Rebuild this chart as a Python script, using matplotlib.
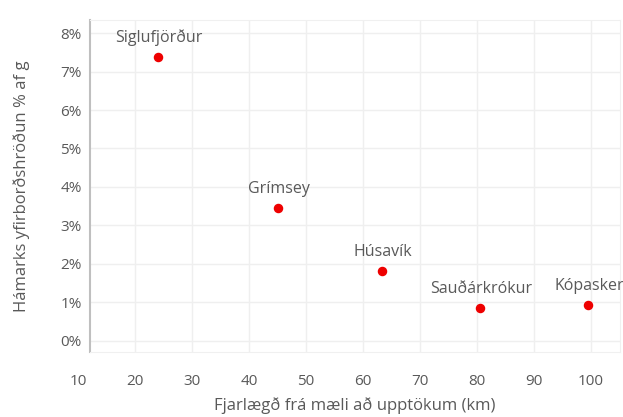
import matplotlib.pyplot as plt
from matplotlib.ticker import PercentFormatter

plt.rcParams['font.family'] = ['Open Sans', 'DejaVu Sans']

stadir = ["Siglufjörður", "Grímsey", "Húsavík", "Sauðárkrókur", "Kópasker"]
fjarlaegd = [24, 45, 63.3, 80.5, 99.5]
hroedun = [7.38, 3.45, 1.82, 0.86, 0.94]

x_ticks = [10, 20, 30, 40, 50, 60, 70, 80, 90, 100]
y_ticks = [0, 1, 2, 3, 4, 5, 6, 7, 8]

txt = "#595959"

fig = plt.figure(figsize=(6.23, 4.17), dpi=100)
ax = fig.add_axes([0.1445, 0.156, 0.85, 0.796])

ax.scatter(fjarlaegd, hroedun, s=34, color="#ee0000", zorder=3)
for n, x, y in zip(stadir, fjarlaegd, hroedun):
    ax.annotate(n, (x, y), xytext=(1, 8), textcoords="offset points",
                ha="center", va="bottom", fontsize=11.5, color=txt)

ax.set_xticks(x_ticks, labels=[])
ax.set_yticks(y_ticks)
ax.set_xlim(12.1, 105)
ax.set_ylim(-0.29, 8.34)

# x-merkingar standa aðeins vinstra megin við ásinn, eins og á fyrirmyndinni
for v in x_ticks:
    ax.text(v, -0.09, str(v), transform=ax.get_xaxis_transform(),
            ha="center", va="center", fontsize=11, color=txt, clip_on=False)

ax.yaxis.set_major_formatter(PercentFormatter(decimals=0))
ax.tick_params(axis="x", length=0)
ax.tick_params(axis="y", length=0, pad=6, labelsize=11, colors=txt)
ax.grid(True, color="#efefef", linewidth=1)
ax.set_axisbelow(True)

for s in ["top", "right", "bottom"]:
    ax.spines[s].set_color("#f0f0f0")
ax.spines["left"].set_color("#bfbfbf")
ax.spines["left"].set_linewidth(1.5)

ax.set_xlabel("Fjarlægð frá mæli að upptökum (km)", fontsize=12, color=txt, labelpad=29)
ax.set_ylabel("Hámarks yfirborðshröðun % af g", fontsize=12, color=txt, labelpad=22)

fig.savefig("out.png", dpi=100)
